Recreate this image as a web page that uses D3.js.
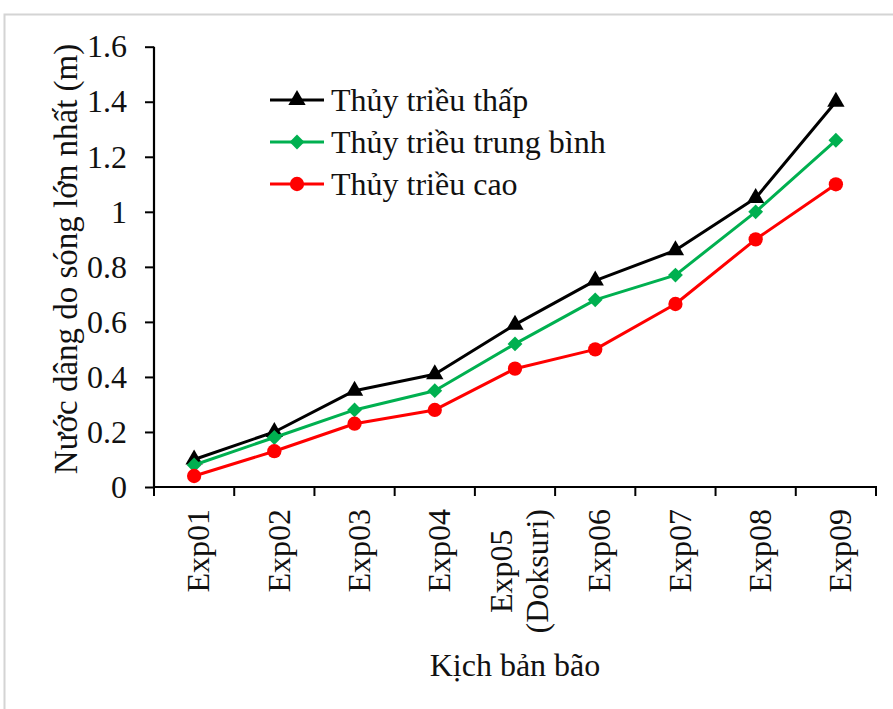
<!DOCTYPE html>
<html>
<head>
<meta charset="utf-8">
<script src="https://cdn.jsdelivr.net/npm/d3@7"></script>
<style>
  html, body { margin: 0; padding: 0; background: #fff; }
  svg { display: block; }
  text { font-family: "Liberation Serif", "Times New Roman", serif; fill: #111; }
</style>
</head>
<body>
<svg id="chart" width="893" height="709"></svg>
<script>
// Storm scenarios (x categories); multi-line labels use "\n"
const categories = ["Exp01", "Exp02", "Exp03", "Exp04", "Exp05\n(Doksuri)", "Exp06", "Exp07", "Exp08", "Exp09"];

// Maximum wave-induced setup (m) for each tide level
const lowTide  = [0.10, 0.20, 0.35, 0.41, 0.59, 0.75, 0.86, 1.05, 1.40];
const midTide  = [0.08, 0.18, 0.28, 0.35, 0.52, 0.68, 0.77, 1.00, 1.26];
const highTide = [0.04, 0.13, 0.23, 0.28, 0.43, 0.50, 0.665, 0.90, 1.10];

const seriesNames = ["Thủy triều thấp", "Thủy triều trung bình", "Thủy triều cao"];
const yTicks = [0, 0.2, 0.4, 0.6, 0.8, 1, 1.2, 1.4, 1.6];

const yTitle = "Nước dâng do sóng lớn nhất (m)";
const xTitle = "Kịch bản bão";

// a square turned 45° gives an even diamond marker
const diamond = {
  draw(ctx, size) {
    const r = Math.sqrt(size / 2);
    ctx.moveTo(0, -r); ctx.lineTo(r, 0); ctx.lineTo(0, r); ctx.lineTo(-r, 0); ctx.closePath();
  }
};

const series = [
  { name: seriesNames[0], values: lowTide,  color: "#000000", symbol: d3.symbolTriangle, size: 130 },
  { name: seriesNames[1], values: midTide,  color: "#00B050", symbol: diamond,           size: 110 },
  { name: seriesNames[2], values: highTide, color: "#FF0000", symbol: d3.symbolCircle,   size: 160 }
];

const FONT = 32;
const svg = d3.select("#chart");

// outer frame
svg.append("rect")
  .attr("x", 4.5).attr("y", 14.5).attr("width", 1000).attr("height", 1000)
  .attr("fill", "#fff").attr("stroke", "#d4d4d4").attr("stroke-width", 2);

const plot = { left: 154, right: 876, top: 46.7, bottom: 487 };

const x = d3.scaleBand().domain(categories).range([plot.left, plot.right]).padding(0);
const y = d3.scaleLinear().domain([0, 1.6]).range([plot.bottom, plot.top]);
const cx = c => x(c) + x.bandwidth() / 2;

// y axis
const yAxis = svg.append("g").attr("transform", `translate(${plot.left},0)`)
  .call(d3.axisLeft(y).tickValues(yTicks).tickSize(9).tickPadding(18)
    .tickFormat(d => d3.format("")(d)));
yAxis.select(".domain").attr("stroke", "#000").attr("stroke-width", 2.2)
  .attr("d", `M0,${plot.top}V${plot.bottom}`);
yAxis.selectAll(".tick line").attr("stroke", "#000").attr("stroke-width", 2);
yAxis.selectAll(".tick text").attr("font-size", FONT).attr("fill", "#111");

// x axis with ticks at category boundaries
const xg = svg.append("g").attr("transform", `translate(0,${plot.bottom})`);
xg.append("line").attr("x1", plot.left - 1).attr("x2", plot.right + 1)
  .attr("stroke", "#000").attr("stroke-width", 2.2);
const bounds = categories.map(c => x(c)).concat([plot.right]);
xg.selectAll("line.tk").data(bounds).join("line").attr("class", "tk")
  .attr("x1", d => d).attr("x2", d => d).attr("y1", 0).attr("y2", 9)
  .attr("stroke", "#000").attr("stroke-width", 2);

// rotated category labels, centred within a box whose top sits just below the axis
const labelTop = 509;
categories.forEach(c => {
  const lines = c.split("\n");
  const g = svg.append("g");
  const texts = lines.map(l => g.append("text").attr("font-size", FONT).text(l));
  const maxLen = d3.max(texts, t => t.node().getComputedTextLength());
  const cy = labelTop + maxLen / 2;
  const lh = 36;
  texts.forEach((t, i) => {
    const off = (i - (lines.length - 1) / 2) * lh + 4;
    const bx = cx(c) + off + 0.35 * FONT;
    t.attr("text-anchor", "middle")
     .attr("transform", `translate(${bx},${cy}) rotate(-90)`);
  });
});

// axis titles
svg.append("text").attr("font-size", 33).attr("text-anchor", "middle")
  .attr("transform", `translate(${65 + 0.35 * 33},${259}) rotate(-90)`)
  .text(yTitle);
svg.append("text").attr("font-size", FONT).attr("text-anchor", "middle")
  .attr("x", 515).attr("y", 676).text(xTitle);

// series lines and markers
const line = d3.line().x((d, i) => cx(categories[i])).y(d => y(d));
series.forEach(s => {
  svg.append("path").attr("d", line(s.values)).attr("fill", "none")
    .attr("stroke", s.color).attr("stroke-width", 3).attr("stroke-linejoin", "round");
  svg.selectAll(null).data(s.values).join("path")
    .attr("d", d3.symbol(s.symbol, s.size))
    .attr("transform", (d, i) => `translate(${cx(categories[i])},${y(d)})`)
    .attr("fill", s.color);
});

// legend
const legY = [100, 142, 184];
series.forEach((s, i) => {
  const g = svg.append("g").attr("transform", `translate(0,${legY[i]})`);
  g.append("line").attr("x1", 270).attr("x2", 324).attr("stroke", s.color).attr("stroke-width", 3);
  g.append("path").attr("d", d3.symbol(s.symbol, s.size)).attr("transform", "translate(297,0)").attr("fill", s.color);
  g.append("text").attr("x", 331).attr("y", 0).attr("dy", "0.33em").attr("font-size", FONT).text(s.name);
});
</script>
</body>
</html>
